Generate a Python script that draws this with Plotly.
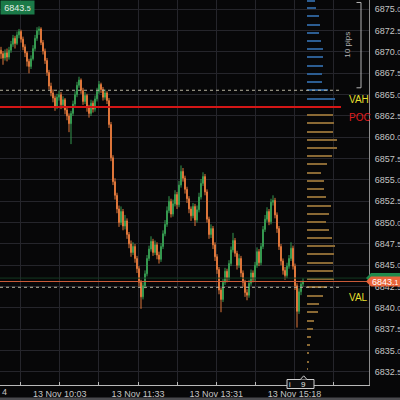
import plotly.graph_objects as go

# ---------------- price bars (one per slot) ----------------
opens = [
    6870.2, 6869.8, 6869.3, 6869.9, 6869.4, 6870.2, 6870.9, 6871.6, 6871.0, 6872.0,
    6872.4, 6871.5, 6870.6, 6869.9, 6868.9, 6868.3, 6869.2, 6870.4, 6871.6, 6872.5,
    6872.7, 6871.1, 6870.1, 6869.0, 6867.6, 6866.0, 6865.2, 6864.6, 6863.6, 6864.7,
    6865.0, 6863.8, 6864.4, 6863.2, 6862.5, 6861.6, 6862.8, 6863.9, 6865.0, 6866.1,
    6866.7, 6865.5, 6864.2, 6864.9, 6863.5, 6862.8, 6864.0, 6863.3, 6864.5, 6865.4,
    6866.2, 6865.6, 6864.7, 6865.2, 6864.3, 6861.5, 6857.6, 6854.8, 6853.2, 6851.6,
    6850.0, 6851.3, 6849.6, 6850.2, 6848.6, 6847.5, 6846.5, 6847.2, 6845.8, 6844.6,
    6843.0, 6841.3, 6842.6, 6844.0, 6845.8, 6846.9, 6847.8, 6846.5, 6847.4, 6846.2,
    6845.7, 6847.2, 6848.7, 6849.8, 6851.4, 6852.5, 6851.0, 6852.2, 6853.3, 6852.1,
    6854.4, 6856.0, 6855.2, 6853.9, 6852.8, 6851.6, 6850.8, 6851.9, 6850.3, 6851.5,
    6853.0, 6854.6, 6855.4, 6853.6, 6850.4, 6848.6, 6849.3, 6847.4, 6846.0, 6844.5,
    6842.1, 6841.0, 6843.0, 6844.3, 6843.5, 6845.2, 6846.8, 6847.9, 6846.4, 6845.0,
    6845.8, 6844.1, 6843.0, 6841.8, 6841.5, 6842.9, 6844.1, 6843.4, 6845.0, 6846.6,
    6845.3, 6847.2, 6849.2, 6850.4, 6851.3, 6850.1, 6852.4, 6852.6, 6850.9, 6849.3,
    6847.2, 6845.5, 6844.4, 6843.8, 6844.9, 6845.8, 6847.0, 6844.9, 6842.6, 6839.6,
    6841.9, 6842.8,
]
highs = [
    6870.6, 6870.1, 6870.3, 6870.4, 6870.6, 6871.3, 6872.0, 6871.9, 6872.4, 6872.7,
    6872.6, 6871.8, 6870.9, 6870.1, 6869.2, 6869.6, 6870.8, 6872.0, 6872.9, 6873.0,
    6872.9, 6871.4, 6870.4, 6869.3, 6867.9, 6866.4, 6865.6, 6864.9, 6865.1, 6865.5,
    6865.3, 6864.8, 6864.6, 6863.5, 6862.8, 6863.1, 6864.3, 6865.4, 6866.5, 6867.1,
    6866.9, 6865.8, 6865.3, 6865.1, 6863.8, 6864.4, 6864.3, 6864.9, 6865.8, 6866.6,
    6866.4, 6865.9, 6865.6, 6865.4, 6864.6, 6861.8, 6857.9, 6855.2, 6853.5, 6852.0,
    6851.9, 6851.6, 6850.9, 6850.5, 6848.9, 6847.9, 6847.7, 6847.5, 6846.1, 6844.9,
    6843.3, 6843.0, 6844.4, 6846.2, 6847.3, 6848.4, 6848.1, 6847.9, 6847.7, 6846.6,
    6847.6, 6849.1, 6850.3, 6851.9, 6853.1, 6852.8, 6852.7, 6853.8, 6853.6, 6854.9,
    6856.7, 6856.4, 6855.5, 6854.2, 6853.1, 6851.9, 6852.3, 6852.2, 6852.0, 6853.5,
    6855.1, 6855.9, 6855.7, 6853.9, 6850.7, 6849.8, 6849.6, 6847.7, 6846.3, 6844.8,
    6842.4, 6843.4, 6844.7, 6844.6, 6845.6, 6847.2, 6848.8, 6848.2, 6846.7, 6846.3,
    6846.1, 6844.4, 6843.3, 6842.2, 6843.3, 6844.5, 6844.4, 6845.4, 6847.1, 6846.9,
    6847.6, 6849.6, 6850.9, 6851.8, 6851.6, 6852.8, 6853.2, 6852.9, 6851.2, 6849.6,
    6847.5, 6845.8, 6844.8, 6845.3, 6846.2, 6847.7, 6847.3, 6845.2, 6842.9, 6842.3,
    6843.2, 6843.5,
]
lows = [
    6869.2, 6868.5, 6869.0, 6868.9, 6869.1, 6869.9, 6870.6, 6870.4, 6870.8, 6871.6,
    6871.1, 6870.2, 6869.4, 6868.3, 6867.5, 6868.0, 6869.0, 6870.1, 6871.3, 6872.0,
    6870.8, 6869.7, 6868.6, 6867.2, 6865.6, 6864.8, 6864.1, 6863.1, 6863.3, 6864.3,
    6863.3, 6863.4, 6862.7, 6862.0, 6860.6, 6859.2, 6862.5, 6863.6, 6864.7, 6865.8,
    6865.1, 6863.8, 6863.9, 6863.0, 6862.3, 6862.5, 6862.9, 6863.0, 6864.2, 6865.1,
    6865.2, 6864.3, 6864.4, 6863.9, 6861.1, 6857.2, 6854.4, 6852.7, 6851.1, 6849.5,
    6849.7, 6849.1, 6849.2, 6848.1, 6847.0, 6846.0, 6846.2, 6845.3, 6844.1, 6842.5,
    6839.9, 6841.0, 6842.3, 6843.7, 6845.5, 6846.6, 6846.1, 6846.2, 6845.7, 6845.2,
    6845.4, 6846.9, 6848.4, 6849.5, 6851.1, 6850.6, 6850.7, 6851.9, 6851.6, 6851.8,
    6854.1, 6854.8, 6853.4, 6852.3, 6851.1, 6850.2, 6850.5, 6849.6, 6850.0, 6851.2,
    6852.7, 6854.3, 6853.2, 6850.0, 6848.1, 6848.2, 6846.9, 6845.5, 6844.0, 6841.6,
    6839.5, 6840.7, 6842.7, 6843.0, 6843.2, 6844.9, 6846.5, 6846.0, 6844.5, 6844.7,
    6843.6, 6842.5, 6841.3, 6840.9, 6841.2, 6842.6, 6843.0, 6843.1, 6844.7, 6844.9,
    6845.0, 6846.9, 6848.9, 6850.1, 6849.7, 6849.8, 6852.0, 6850.5, 6848.8, 6846.8,
    6845.0, 6843.9, 6843.3, 6843.5, 6844.6, 6845.5, 6844.5, 6842.1, 6837.7, 6839.3,
    6841.5, 6842.5,
]
closes = [
    6869.8, 6869.3, 6869.9, 6869.4, 6870.2, 6870.9, 6871.6, 6871.0, 6872.0, 6872.4,
    6871.5, 6870.6, 6869.9, 6868.9, 6868.3, 6869.2, 6870.4, 6871.6, 6872.5, 6872.7,
    6871.1, 6870.1, 6869.0, 6867.6, 6866.0, 6865.2, 6864.6, 6863.6, 6864.7, 6865.0,
    6863.8, 6864.4, 6863.2, 6862.5, 6861.6, 6862.8, 6863.9, 6865.0, 6866.1, 6866.7,
    6865.5, 6864.2, 6864.9, 6863.5, 6862.8, 6864.0, 6863.3, 6864.5, 6865.4, 6866.2,
    6865.6, 6864.7, 6865.2, 6864.3, 6861.5, 6857.6, 6854.8, 6853.2, 6851.6, 6850.0,
    6851.3, 6849.6, 6850.2, 6848.6, 6847.5, 6846.5, 6847.2, 6845.8, 6844.6, 6843.0,
    6841.3, 6842.6, 6844.0, 6845.8, 6846.9, 6847.8, 6846.5, 6847.4, 6846.2, 6845.7,
    6847.2, 6848.7, 6849.8, 6851.4, 6852.5, 6851.0, 6852.2, 6853.3, 6852.1, 6854.4,
    6856.0, 6855.2, 6853.9, 6852.8, 6851.6, 6850.8, 6851.9, 6850.3, 6851.5, 6853.0,
    6854.6, 6855.4, 6853.6, 6850.4, 6848.6, 6849.3, 6847.4, 6846.0, 6844.5, 6842.1,
    6841.0, 6843.0, 6844.3, 6843.5, 6845.2, 6846.8, 6847.9, 6846.4, 6845.0, 6845.8,
    6844.1, 6843.0, 6841.8, 6841.5, 6842.9, 6844.1, 6843.4, 6845.0, 6846.6, 6845.3,
    6847.2, 6849.2, 6850.4, 6851.3, 6850.1, 6852.4, 6852.6, 6850.9, 6849.3, 6847.2,
    6845.5, 6844.4, 6843.8, 6844.9, 6845.8, 6847.0, 6844.9, 6842.6, 6839.6, 6841.9,
    6842.8, 6843.1,
]
bar_index = list(range(len(closes)))

# ---------------- volume profile ----------------
profile_prices = [
    6875.97, 6875.15, 6874.18, 6873.20, 6872.22, 6871.29, 6870.35, 6869.38, 6868.39, 6867.42,
    6866.48, 6865.51, 6864.52, 6863.55, 6862.61, 6861.67, 6860.66, 6859.72, 6858.75, 6857.81,
    6856.87, 6855.85, 6854.92, 6853.98, 6853.00, 6851.99, 6851.05, 6850.11, 6849.14, 6848.20,
    6847.23, 6846.29, 6845.27, 6844.33, 6843.36, 6842.42, 6841.44, 6840.50, 6839.52, 6838.51,
    6837.57, 6836.60, 6835.66, 6834.69, 6833.71, 6832.82,
]
profile_volume = [
    77, 87, 120, 127, 114, 137, 154, 160, 154, 147,
    147, 207, 277, 334, 260, 267, 260, 294, 294, 250,
    194, 137, 167, 167, 184, 237, 220, 184, 220, 244,
    277, 270, 260, 260, 270, 194, 154, 120, 110, 70,
    60, 37, 27, 20, 14, 7,
]
vah_price = 6865.51
poc_price = 6863.55
val_price = 6842.42
bid_price = 6843.1
ask_price = 6843.5

# ---------------- axis labels ----------------
x_tick_pos = [9.85, 29.41, 48.97, 68.53, 88.09, 107.65, 127.21, 146.77, 166.33]
x_tick_text = ["", "13 Nov 10:03", "", "13 Nov 11:33", "", "13 Nov 13:31", "", "13 Nov 15:18", ""]
y_tick_vals = [6832.5 + 2.5 * k for k in range(18)]

BG = "#070708"
GRID = "#25252b"
TXT = "#c4c4c4"
FONT = "Liberation Sans"


def price_text(v, small=7):
    whole, dec = f"{v:.1f}".split(".")
    return f"{whole}.<span style='font-size:{small}px'>{dec}</span>"


y_tick_text = [price_text(v) for v in y_tick_vals]

profile_colors = []
for p in profile_prices:
    if abs(p - poc_price) < 1e-6:
        profile_colors.append("#d41616")
    elif p > poc_price:
        profile_colors.append("#2c5d92")
    else:
        profile_colors.append("#8a6934")

fig = go.Figure()

fig.add_trace(go.Candlestick(
    x=bar_index, open=opens, high=highs, low=lows, close=closes,
    increasing=dict(line=dict(color="#35984f", width=1), fillcolor="#35984f"),
    decreasing=dict(line=dict(color="#de763a", width=1), fillcolor="#de763a"),
    whiskerwidth=0, showlegend=False, hoverinfo="skip",
    xaxis="x", yaxis="y",
))

fig.add_trace(go.Bar(
    x=profile_volume, y=profile_prices, orientation="h", base=0,
    width=0.26, marker=dict(color=profile_colors, line=dict(width=0)),
    xaxis="x2", yaxis="y", showlegend=False, hoverinfo="skip",
))

# plot area spans 369 px; paper fractions for overlay items
PW = 369.0


def px(v):
    return v / PW


def py(v):
    return (385.0 - v) / 385.0


shapes = []
# value area / point of control / price lines
shapes.append(dict(type="line", xref="paper", yref="y", x0=0, x1=px(341), y0=vah_price, y1=vah_price,
                   line=dict(color="#b8b4a0", width=1, dash="dot")))
shapes.append(dict(type="line", xref="paper", yref="y", x0=0, x1=px(339), y0=val_price, y1=val_price,
                   line=dict(color="#b8b4a0", width=1, dash="dot")))
shapes.append(dict(type="line", xref="paper", yref="y", x0=0, x1=px(341), y0=poc_price, y1=poc_price,
                   line=dict(color="#d41616", width=2)))
shapes.append(dict(type="line", xref="paper", yref="y", x0=0, x1=1, y0=ask_price, y1=ask_price,
                   line=dict(color="#143a22", width=1)))
shapes.append(dict(type="line", xref="paper", yref="y", x0=0, x1=1, y0=bid_price, y1=bid_price,
                   line=dict(color="#c95a38", width=1)))


def tag_path(price, half=0.6):
    return (f"M {px(366)},{price} L {px(371)},{price + half} L {px(400)},{price + half} "
            f"L {px(400)},{price - half} L {px(371)},{price - half} Z")


shapes.append(dict(type="path", xref="paper", yref="y", path=tag_path(ask_price),
                   fillcolor="#1f8a4c", line=dict(width=0)))
shapes.append(dict(type="path", xref="paper", yref="y", path=tag_path(bid_price),
                   fillcolor="#e8643a", line=dict(width=0)))

# 10-pip ruler
shapes.append(dict(type="path", xref="paper", yref="y",
                   path=f"M {px(356.5)},6875.8 L {px(361)},6875.8 L {px(361)},6865.8 L {px(356.5)},6865.8",
                   line=dict(color="#b4b4b4", width=1)))

# bar-count marker on the time axis
shapes.append(dict(type="rect", xref="paper", yref="paper", layer="above",
                   x0=px(287), x1=px(314), y0=py(388.5), y1=py(379.5),
                   fillcolor="#0e0e10", line=dict(color="#cfcfcf", width=1)))
shapes.append(dict(type="path", xref="paper", yref="paper", layer="above",
                   path=f"M {px(300.3)},{py(379.5)} L {px(303.7)},{py(375.8)} L {px(307)},{py(379.5)}",
                   fillcolor="#0e0e10", line=dict(color="#cfcfcf", width=1)))
# scroll strip at the bottom
shapes.append(dict(type="rect", xref="paper", yref="paper", x0=0, x1=px(400), y0=py(400.5), y1=py(397.6),
                   fillcolor="#4a4a4e", line=dict(width=0)))

annotations = [
    dict(text="VAH", xref="paper", yref="y", x=px(347), y=vah_price, xanchor="left", yanchor="top",
         yshift=-2, showarrow=False, font=dict(family=FONT, size=10, color="#e6df2e")),
    dict(text="POC", xref="paper", yref="y", x=px(347), y=poc_price, xanchor="left", yanchor="top",
         yshift=-3, showarrow=False, font=dict(family=FONT, size=10, color="#e01e1e")),
    dict(text="VAL", xref="paper", yref="y", x=px(347), y=val_price, xanchor="left", yanchor="top",
         yshift=-3, showarrow=False, font=dict(family=FONT, size=10, color="#e6df2e")),
    dict(text=price_text(bid_price), xref="paper", yref="y", x=px(385.5), y=bid_price,
         xanchor="center", yanchor="middle", showarrow=False,
         font=dict(family=FONT, size=9, color="#ffffff")),
    dict(text=price_text(ask_price), xref="paper", yref="paper", x=0, y=1, xanchor="left", yanchor="top",
         width=33, height=13, bgcolor="#1b7a48", borderpad=0, showarrow=False,
         font=dict(family=FONT, size=9, color="#e4efe6")),
    dict(text="10 pips", xref="paper", yref="y", x=px(354), y=6870.8, textangle=-90,
         showarrow=False, font=dict(family=FONT, size=8, color="#b4b4b4")),
    dict(text="i", xref="paper", yref="paper", x=px(290), y=py(384), xanchor="center", yanchor="middle",
         showarrow=False, font=dict(family=FONT, size=7, color="#e6e6e6")),
    dict(text="9", xref="paper", yref="paper", x=px(303.7), y=py(384), xanchor="center", yanchor="middle",
         showarrow=False, font=dict(family=FONT, size=8, color="#e6e6e6")),
    dict(text="4", xref="paper", yref="paper", x=0, y=py(392), xanchor="left", yanchor="middle",
         showarrow=False, font=dict(family=FONT, size=9, color=TXT)),
]

fig.update_layout(
    width=400, height=400, autosize=False,
    margin=dict(l=0, r=31, t=0, b=15, pad=0),
    paper_bgcolor=BG, plot_bgcolor=BG,
    showlegend=False, bargap=0,
    font=dict(family=FONT, size=9, color=TXT),
    xaxis=dict(
        range=[-0.5, 184], tickmode="array", tickvals=x_tick_pos, ticktext=x_tick_text,
        showgrid=True, gridcolor=GRID, gridwidth=1, zeroline=False,
        showline=True, linecolor="#b8b8b8", linewidth=1,
        ticks="inside", ticklen=3, tickcolor="#b8b8b8",
        tickfont=dict(family=FONT, size=9, color=TXT),
        rangeslider=dict(visible=False), fixedrange=True,
    ),
    xaxis2=dict(
        overlaying="x", anchor="y", range=[-3073, 617], visible=False,
        showgrid=False, zeroline=False, fixedrange=True,
    ),
    yaxis=dict(
        side="right", range=[6830.97, 6876.09], tickmode="array",
        tickvals=y_tick_vals, ticktext=y_tick_text,
        showgrid=True, gridcolor=GRID, gridwidth=1, zeroline=False,
        showline=True, linecolor="#8c8c8c", linewidth=1,
        ticks="", ticklabelstandoff=3,
        tickfont=dict(family=FONT, size=9, color=TXT), fixedrange=True,
    ),
    shapes=shapes,
    annotations=annotations,
)

fig.write_html("out.html")
